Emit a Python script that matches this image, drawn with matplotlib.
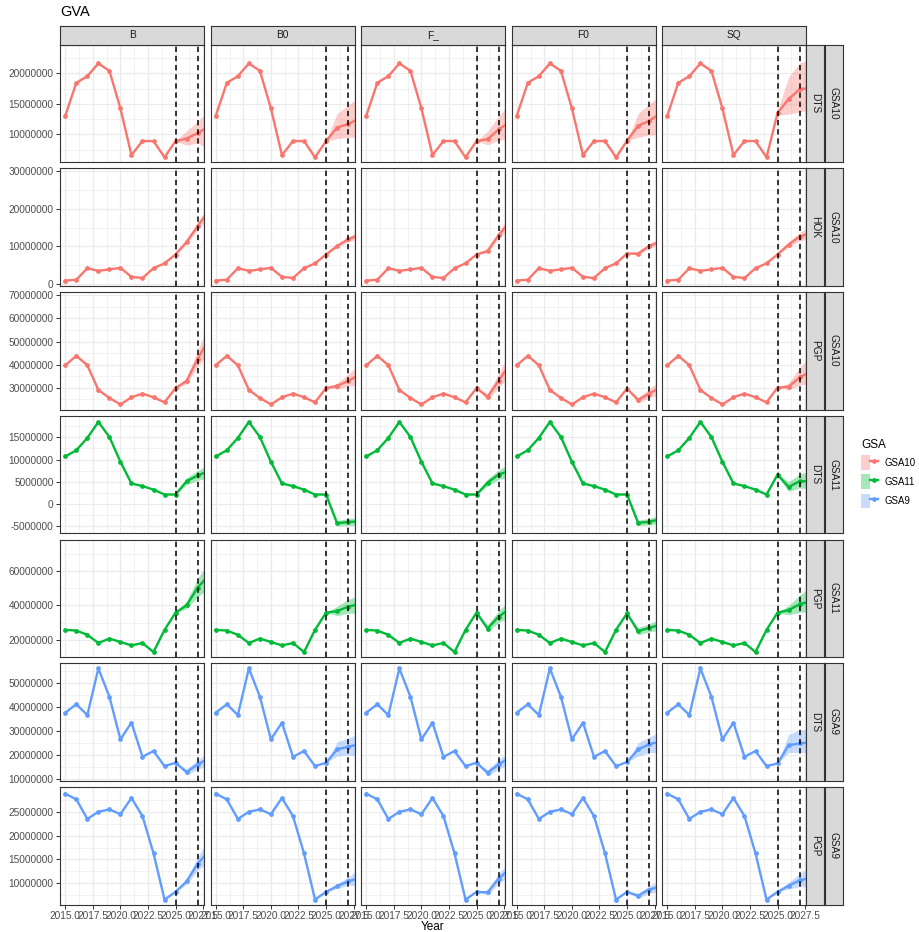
import matplotlib.pyplot as plt
from matplotlib.lines import Line2D
from matplotlib.patches import Patch
from matplotlib.legend_handler import HandlerTuple
from matplotlib.ticker import FuncFormatter
import numpy as np

plt.rcParams['font.family'] = ['Liberation Sans', 'DejaVu Sans']

# facets
scenarios = ["B", "B0", "F_", "F0", "SQ"]
row_gsa = ["GSA10", "GSA10", "GSA10", "GSA11", "GSA11", "GSA9", "GSA9"]
row_fleet = ["DTS", "HOK", "PGP", "DTS", "PGP", "DTS", "PGP"]
gsa_names = ["GSA10", "GSA11", "GSA9"]
gsa_colors = {"GSA10": "#F8766D", "GSA11": "#00BA38", "GSA9": "#619CFF"}

years_hist = list(range(2015, 2025))
years_proj = [2025, 2026, 2027, 2028]
x_ticks = [2015.0, 2017.5, 2020.0, 2022.5, 2025.0, 2027.5]
vlines = [2025, 2027]

# GVA values in millions (EUR)
# --- GSA10 DTS
gsa10_dts_hist = [13.05, 18.46, 19.55, 21.64, 20.43, 14.26, 6.6, 8.9, 8.9, 6.23]
gsa10_dts_mid = {"B": [8.9, 9.3, 10.2, 11.3], "B0": [8.9, 11.1, 11.7, 12.6], "F_": [8.9, 9.2, 10.8, 12.0],
                 "F0": [8.95, 11.4, 12.2, 13.4], "SQ": [13.5, 15.8, 17.4, 17.6]}
gsa10_dts_lo = {"B": [8.9, 8.2, 8.6, 7.6], "B0": [8.9, 9.3, 9.5, 9.6], "F_": [8.9, 8.3, 9.0, 9.3],
                "F0": [8.95, 9.5, 9.9, 9.9], "SQ": [13.2, 13.3, 13.7, 14.0]}
gsa10_dts_hi = {"B": [8.9, 10.6, 12.1, 14.0], "B0": [8.9, 13.4, 14.8, 16.0], "F_": [8.9, 10.5, 13.0, 15.0],
                "F0": [8.95, 13.4, 15.0, 16.3], "SQ": [13.9, 19.4, 21.7, 22.3]}
# --- GSA10 HOK
gsa10_hok_hist = [0.9, 1.15, 4.2, 3.5, 3.9, 4.3, 1.9, 1.6, 4.2, 5.5]
gsa10_hok_mid = {"B": [7.85, 11.2, 15.4, 19.4], "B0": [7.85, 10.1, 11.9, 13.0], "F_": [7.85, 8.8, 13.0, 16.5],
                 "F0": [8.1, 8.1, 10.1, 11.3], "SQ": [7.85, 10.5, 12.6, 13.6]}
gsa10_hok_lo = {"B": [7.85, 10.7, 14.4, 17.8], "B0": [7.85, 9.7, 11.2, 12.0], "F_": [7.85, 8.3, 12.0, 15.0],
                "F0": [8.1, 7.7, 9.5, 10.4], "SQ": [7.85, 9.8, 11.5, 12.0]}
gsa10_hok_hi = {"B": [7.85, 11.7, 16.4, 21.0], "B0": [7.85, 10.5, 12.6, 14.0], "F_": [7.85, 9.3, 14.0, 18.0],
                "F0": [8.1, 8.5, 10.7, 12.2], "SQ": [7.85, 11.2, 13.7, 15.2]}
# --- GSA10 PGP
gsa10_pgp_hist = [39.7, 43.8, 39.7, 29.0, 25.5, 22.7, 25.8, 27.4, 25.8, 23.6]
gsa10_pgp_mid = {"B": [29.8, 32.9, 42.4, 51.0], "B0": [29.8, 30.7, 32.9, 35.5], "F_": [29.8, 26.0, 33.0, 40.0],
                 "F0": [29.6, 24.6, 27.4, 30.0], "SQ": [30.0, 30.4, 34.4, 37.0]}
gsa10_pgp_lo = {"B": [29.8, 31.5, 39.0, 45.0], "B0": [29.8, 29.3, 30.5, 31.0], "F_": [29.8, 24.5, 30.0, 35.0],
                "F0": [29.6, 23.4, 25.5, 27.0], "SQ": [30.0, 29.0, 31.0, 31.8]}
gsa10_pgp_hi = {"B": [29.8, 34.3, 46.0, 57.0], "B0": [29.8, 32.0, 35.8, 40.0], "F_": [29.8, 27.5, 36.0, 45.0],
                "F0": [29.6, 25.8, 29.4, 33.0], "SQ": [30.0, 32.0, 38.5, 44.0]}
# --- GSA11 DTS
gsa11_dts_hist = [10.7, 12.1, 14.9, 18.5, 15.1, 9.5, 4.6, 4.0, 3.2, 2.1]
gsa11_dts_mid = {"B": [2.1, 5.1, 6.4, 7.4], "B0": [2.1, -4.4, -4.1, -4.0], "F_": [2.1, 4.8, 6.6, 7.5],
                 "F0": [2.1, -4.3, -4.05, -3.5], "SQ": [6.6, 3.8, 5.1, 5.1]}
gsa11_dts_lo = {"B": [2.1, 4.3, 5.3, 5.9], "B0": [2.1, -5.0, -4.9, -4.9], "F_": [2.1, 4.0, 5.5, 6.0],
                "F0": [2.1, -4.9, -4.8, -4.4], "SQ": [6.3, 2.8, 3.6, 3.4]}
gsa11_dts_hi = {"B": [2.1, 5.9, 7.5, 8.9], "B0": [2.1, -3.8, -3.3, -3.1], "F_": [2.1, 5.6, 7.7, 9.0],
                "F0": [2.1, -3.7, -3.3, -2.6], "SQ": [6.9, 5.0, 6.7, 7.5]}
# --- GSA11 PGP
gsa11_pgp_hist = [25.7, 25.3, 22.8, 18.0, 20.6, 18.6, 16.6, 18.0, 12.7, 25.7]
gsa11_pgp_mid = {"B": [35.8, 40.1, 50.5, 57.5], "B0": [35.8, 36.7, 39.3, 40.8], "F_": [35.8, 26.5, 33.5, 38.0],
                 "F0": [35.4, 24.9, 26.9, 28.7], "SQ": [35.8, 37.3, 40.7, 42.5]}
gsa11_pgp_lo = {"B": [35.8, 38.0, 45.0, 50.0], "B0": [35.8, 34.0, 35.5, 35.5], "F_": [35.8, 24.5, 30.0, 33.0],
                "F0": [35.4, 22.8, 24.5, 25.5], "SQ": [35.8, 34.5, 36.0, 36.5]}
gsa11_pgp_hi = {"B": [35.8, 42.5, 56.0, 65.0], "B0": [35.8, 39.5, 43.5, 46.0], "F_": [35.8, 28.5, 37.0, 43.0],
                "F0": [35.4, 27.0, 29.3, 32.0], "SQ": [35.8, 40.0, 46.0, 51.0]}
# --- GSA9 DTS
gsa9_dts_hist = [37.7, 41.2, 36.7, 56.2, 44.4, 26.5, 33.5, 19.2, 21.6, 15.3]
gsa9_dts_mid = {"B": [16.7, 12.8, 16.0, 18.5], "B0": [16.7, 22.3, 23.4, 24.5], "F_": [16.7, 12.5, 16.0, 18.8],
                "F0": [17.0, 22.3, 24.4, 25.6], "SQ": [16.4, 24.0, 24.8, 25.3]}
gsa9_dts_lo = {"B": [16.7, 11.5, 14.0, 15.5], "B0": [16.7, 19.5, 20.0, 19.5], "F_": [16.7, 11.2, 14.0, 16.0],
               "F0": [17.0, 19.5, 21.0, 21.0], "SQ": [16.4, 21.0, 21.0, 21.0]}
gsa9_dts_hi = {"B": [16.7, 14.1, 18.0, 21.0], "B0": [16.7, 25.5, 27.0, 29.0], "F_": [16.7, 13.8, 18.0, 21.5],
               "F0": [17.0, 25.0, 27.5, 29.5], "SQ": [16.4, 28.6, 30.4, 30.8]}
# --- GSA9 PGP
gsa9_pgp_hist = [28.8, 27.6, 23.5, 25.0, 25.5, 24.5, 27.9, 24.1, 16.3, 6.6]
gsa9_pgp_mid = {"B": [8.2, 10.4, 14.1, 16.7], "B0": [8.2, 9.4, 10.4, 11.1], "F_": [8.2, 8.1, 11.0, 13.0],
                "F0": [8.2, 7.4, 8.7, 9.3], "SQ": [8.2, 9.5, 10.6, 11.2]}
gsa9_pgp_lo = {"B": [8.2, 9.8, 12.7, 14.5], "B0": [8.2, 8.9, 9.6, 9.5], "F_": [8.2, 7.6, 10.0, 11.5],
               "F0": [8.2, 6.9, 7.9, 8.3], "SQ": [8.2, 8.8, 9.3, 9.3]}
gsa9_pgp_hi = {"B": [8.2, 11.0, 15.5, 19.3], "B0": [8.2, 9.9, 11.3, 13.0], "F_": [8.2, 8.6, 12.0, 14.5],
               "F0": [8.2, 7.9, 9.5, 10.4], "SQ": [8.2, 10.2, 12.0, 13.6]}

rows = [
    (gsa10_dts_hist, gsa10_dts_mid, gsa10_dts_lo, gsa10_dts_hi),
    (gsa10_hok_hist, gsa10_hok_mid, gsa10_hok_lo, gsa10_hok_hi),
    (gsa10_pgp_hist, gsa10_pgp_mid, gsa10_pgp_lo, gsa10_pgp_hi),
    (gsa11_dts_hist, gsa11_dts_mid, gsa11_dts_lo, gsa11_dts_hi),
    (gsa11_pgp_hist, gsa11_pgp_mid, gsa11_pgp_lo, gsa11_pgp_hi),
    (gsa9_dts_hist, gsa9_dts_mid, gsa9_dts_lo, gsa9_dts_hi),
    (gsa9_pgp_hist, gsa9_pgp_mid, gsa9_pgp_lo, gsa9_pgp_hi),
]

# free y scales (millions)
row_yticks = [[10, 15, 20], [0, 10, 20, 30], [30, 40, 50, 60, 70], [-5, 0, 5, 10, 15],
              [20, 40, 60], [10, 20, 30, 40, 50], [10, 15, 20, 25]]
row_ylim = [(5.46, 24.75), (-0.46, 30.8), (20.5, 71.5), (-6.65, 19.9),
            (9.8, 78.7), (9.16, 58.4), (5.56, 30.2)]

W, H = 919, 932
fig = plt.figure(figsize=(W / 100, H / 100), dpi=100)

def rect(x0, y0, w, h):
    return [x0 / W, 1 - (y0 + h) / H, w / W, h / H]

col_left, col_step, pw = 60, 150.5, 144
row_top, row_step, ph = 44.5, 123.75, 117.5
strip_h = 18.5
dark = "#333333"
grid_c = "#EBEBEB"
tick_c = "#4D4D4D"

def fmt_mil(v, pos):
    return "%d" % int(round(v * 1e6))

def minor_of(ticks, lo, hi):
    step = ticks[1] - ticks[0]
    m = np.arange(ticks[0] - step / 2, ticks[-1] + step, step)
    return [v for v in m if lo <= v <= hi]

xlim = (2014.52, 2027.58)
x_minor = minor_of(x_ticks, *xlim)

for r in range(7):
    hist, mid, lo, hi = rows[r]
    color = gsa_colors[row_gsa[r]]
    for c, sc in enumerate(scenarios):
        ax = fig.add_axes(rect(col_left + c * col_step, row_top + r * row_step, pw, ph))
        ax.fill_between(years_proj, lo[sc], hi[sc], color=color, alpha=0.35, lw=0, zorder=2)
        ax.plot(years_hist + years_proj, hist + mid[sc], color=color, lw=1.7,
                marker='o', ms=2.4, zorder=3)
        for v in vlines:
            ax.axvline(v, color='black', ls=(0, (3.5, 2.5)), lw=1.1, zorder=4)
        ax.set_xlim(*xlim)
        ax.set_ylim(*row_ylim[r])
        ax.set_xticks(x_ticks)
        ax.set_xticks(x_minor, minor=True)
        ax.set_yticks(row_yticks[r])
        ax.set_yticks(minor_of(row_yticks[r], *row_ylim[r]), minor=True)
        ax.grid(True, which='major', color=grid_c, lw=0.9, zorder=0)
        ax.grid(True, which='minor', color=grid_c, lw=0.45, zorder=0)
        ax.set_axisbelow(True)
        for s in ax.spines.values():
            s.set_color(dark)
            s.set_linewidth(0.8)
        ax.tick_params(which='minor', length=0)
        ax.tick_params(which='major', length=3.2, width=0.7, color=dark,
                       labelsize=7.3, labelcolor=tick_c, pad=1.5)
        if c == 0:
            ax.yaxis.set_major_formatter(FuncFormatter(fmt_mil))
        else:
            ax.tick_params(axis='y', which='major', length=0, labelleft=False)
        if r == 6:
            ax.xaxis.set_major_formatter(FuncFormatter(lambda v, p: "%.1f" % v))
        else:
            ax.tick_params(axis='x', which='major', length=0, labelbottom=False)

        if r == 0:
            sax = fig.add_axes(rect(col_left + c * col_step, row_top - strip_h, pw, strip_h))
            sax.set_facecolor("#D9D9D9")
            sax.set_xticks([])
            sax.set_yticks([])
            for s in sax.spines.values():
                s.set_color(dark)
                s.set_linewidth(0.8)
            sax.text(0.5, 0.5, sc, ha='center', va='center', fontsize=7.3,
                     color="#1A1A1A", transform=sax.transAxes)

    # row strips: fleet (inner) and GSA (outer)
    for k, lab in enumerate([row_fleet[r], row_gsa[r]]):
        sax = fig.add_axes(rect(col_left + 4 * col_step + pw + k * 18.5, row_top + r * row_step, 18.5, ph))
        sax.set_facecolor("#D9D9D9")
        sax.set_xticks([])
        sax.set_yticks([])
        for s in sax.spines.values():
            s.set_color(dark)
            s.set_linewidth(0.8)
        sax.text(0.5, 0.5, lab, ha='center', va='center', rotation=270, fontsize=7.3,
                 color="#1A1A1A", transform=sax.transAxes)

fig.text(60 / W, 1 - 12 / H, "GVA", fontsize=10.5, va='center', ha='left', color="black")
fig.text((col_left + 4 * col_step + pw / 2 + col_left + pw / 2) / 2 / W, 1 - 927 / H, "Year",
         fontsize=8.5, ha='center', va='center', color="black")

handles = [(Patch(facecolor=gsa_colors[g], alpha=0.35, lw=0),
            Line2D([], [], color=gsa_colors[g], lw=1.7, marker='o', ms=2.4)) for g in gsa_names]
leg = fig.legend(handles, gsa_names, handler_map={tuple: HandlerTuple(ndivide=None)},
                 loc='upper left', bbox_to_anchor=(861 / W, 1 - 439 / H), frameon=False,
                 title="GSA", fontsize=6.9, title_fontsize=8.5, handlelength=1.8,
                 handleheight=2.0, labelspacing=0.45, handletextpad=0.7,
                 borderpad=0, borderaxespad=0)
leg._legend_box.align = "left"

fig.savefig("out.png", dpi=100)
